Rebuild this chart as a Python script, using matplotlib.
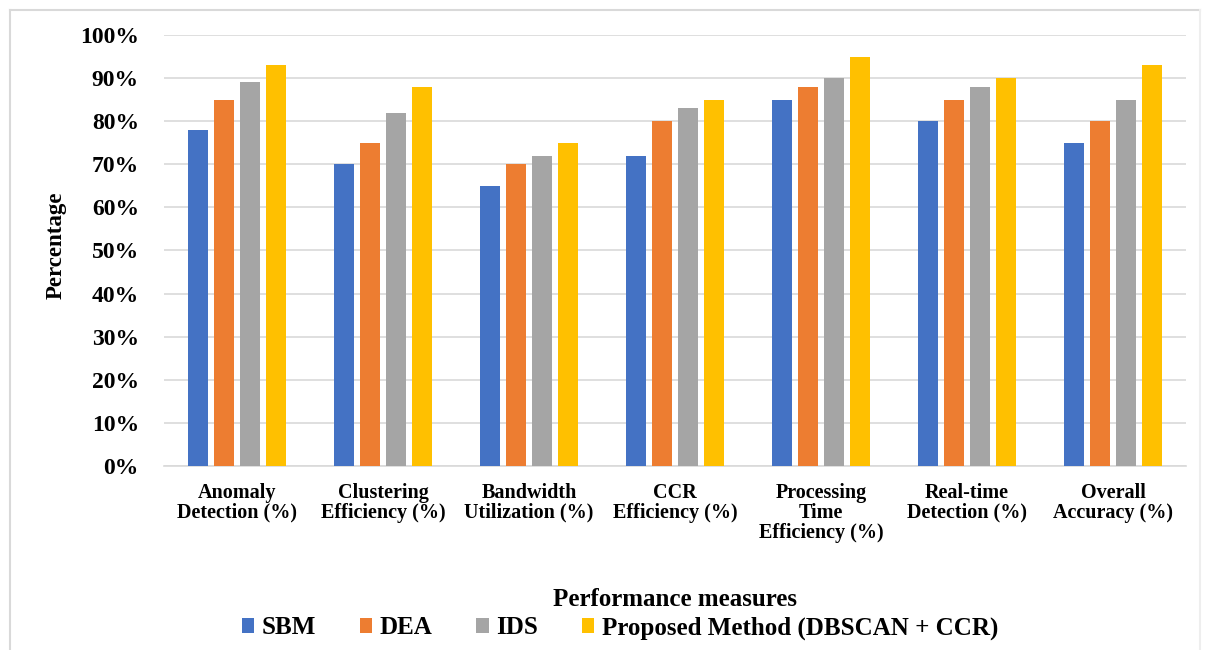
import matplotlib
matplotlib.use("Agg")
import matplotlib.pyplot as plt
from matplotlib.lines import Line2D
import numpy as np

categories = [
    "Anomaly\nDetection (%)",
    "Clustering\nEfficiency (%)",
    "Bandwidth\nUtilization (%)",
    "CCR\nEfficiency (%)",
    "Processing\nTime\nEfficiency (%)",
    "Real-time\nDetection (%)",
    "Overall\nAccuracy (%)",
]
series_names = ["SBM", "DEA", "IDS", "Proposed Method (DBSCAN + CCR)"]
sbm = [78, 70, 65, 72, 85, 80, 75]
dea = [85, 75, 70, 80, 88, 85, 80]
ids = [89, 82, 72, 83, 90, 88, 85]
proposed = [93, 88, 75, 85, 95, 90, 93]
y_ticks = [0, 10, 20, 30, 40, 50, 60, 70, 80, 90, 100]

colors = ["#4472C4", "#ED7D31", "#A5A5A5", "#FFC000"]

plt.rcParams["font.family"] = ["Liberation Serif", "DejaVu Serif"]
plt.rcParams["font.weight"] = "bold"

W, H = 1206, 650
fig = plt.figure(figsize=(W / 100, H / 100), dpi=100)
ax = fig.add_axes([164 / W, 1 - 466 / H, (1186 - 164) / W, (466 - 35) / H])

x = np.arange(len(categories))
step = 26 / 146
width = 20 / 146
for i, (vals, name, c) in enumerate(zip([sbm, dea, ids, proposed], series_names, colors)):
    ax.bar(x + (i - 1.5) * step, vals, width=width, color=c, label=name, zorder=3)

ax.set_xlim(-0.5, len(categories) - 0.5)
ax.set_ylim(0, 100)
ax.set_yticks(y_ticks)
ax.set_yticklabels([f"{v}%" for v in y_ticks], fontsize=17, fontweight="bold")
ax.set_xticks(x)
ax.set_xticklabels(categories, fontsize=14.5, fontweight="bold", linespacing=1.0)
ax.tick_params(axis="y", length=0, pad=18)
ax.tick_params(axis="x", length=0, pad=12)
ax.yaxis.grid(True, color="#D9D9D9", linewidth=1.2, zorder=0)
for s in ["top", "right", "left"]:
    ax.spines[s].set_visible(False)
ax.spines["bottom"].set_color("#D9D9D9")
ax.spines["bottom"].set_linewidth(1.2)

fig.text(56 / W, 1 - 245 / H, "Percentage", rotation=90, ha="center", va="center",
         fontsize=16.5, fontweight="bold")
fig.text(675 / W, 1 - 599 / H, "Performance measures", ha="center", va="center",
         fontsize=18, fontweight="bold")

handles, labels = ax.get_legend_handles_labels()
fig.legend(handles, labels, loc="center", bbox_to_anchor=(620 / W, 1 - 628 / H),
           ncol=4, frameon=False, prop={"weight": "bold", "size": 18},
           handlelength=0.5, handleheight=0.5, handletextpad=0.3, columnspacing=1.75)

# light frame around the chart area
frame_color = "#D9D9D9"
fig.add_artist(Line2D([10 / W, 10 / W], [0, 1 - 10 / H], transform=fig.transFigure,
                      color=frame_color, linewidth=1.5))
fig.add_artist(Line2D([10 / W, 1200 / W], [1 - 10 / H, 1 - 10 / H], transform=fig.transFigure,
                      color=frame_color, linewidth=1.5))
fig.add_artist(Line2D([1200 / W, 1200 / W], [0, 1 - 10 / H], transform=fig.transFigure,
                      color="#EEEEEE", linewidth=1.5))

fig.savefig("out.png", dpi=100)
